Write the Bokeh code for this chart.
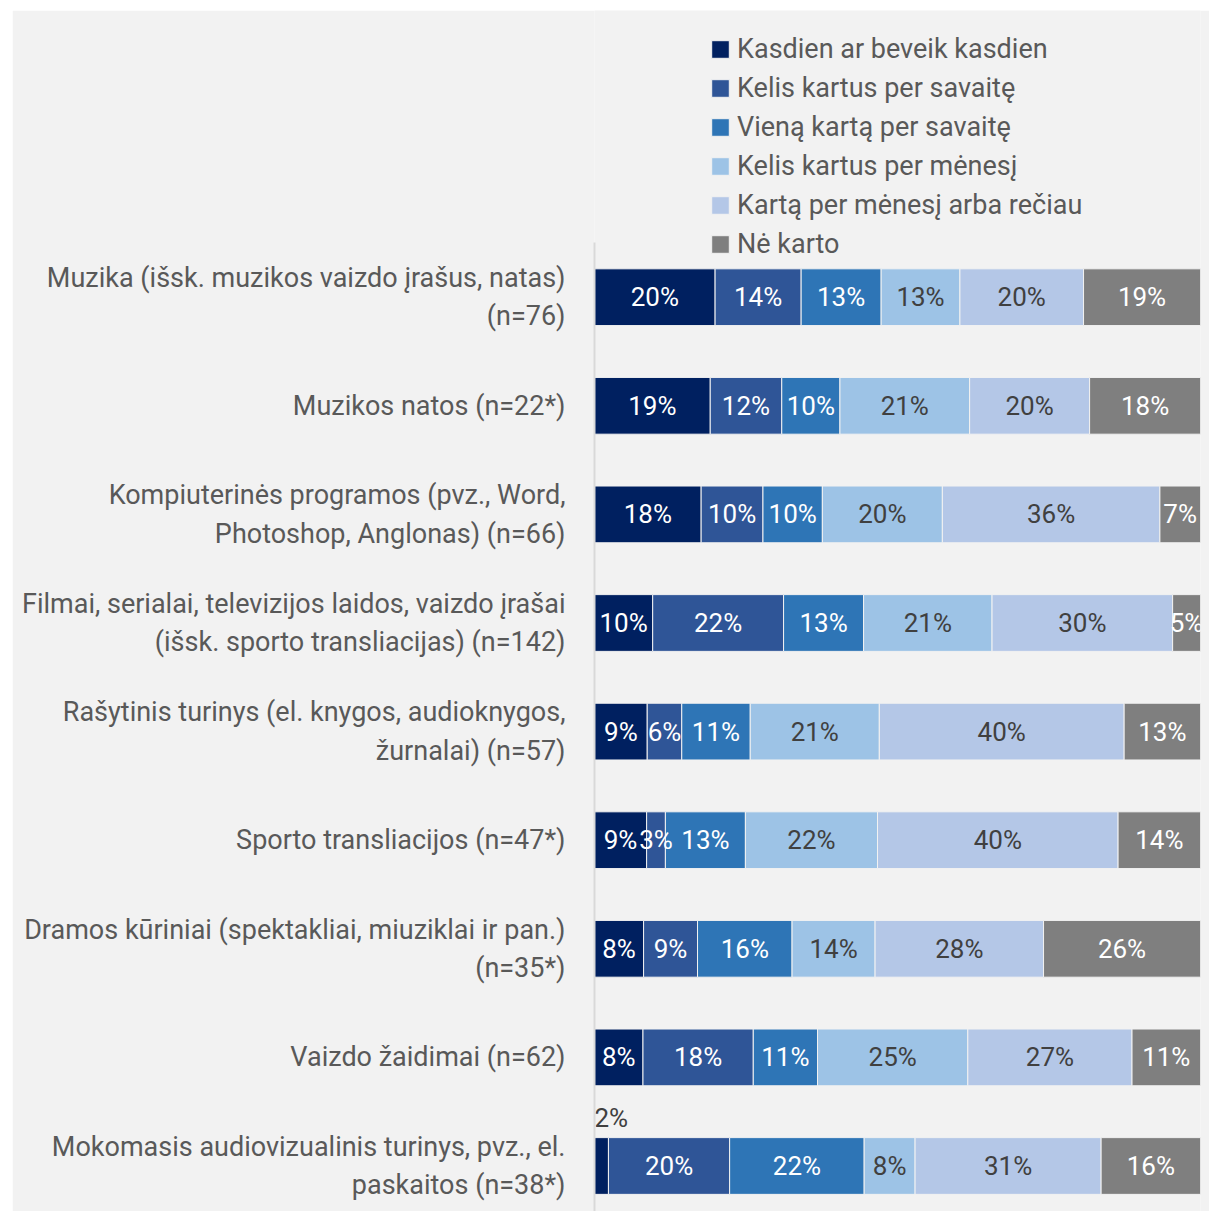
from bokeh.plotting import figure
from bokeh.models import ColumnDataSource, Range1d, FixedTicker
from bokeh.core.properties import value
from bokeh.embed import file_html
from bokeh.resources import INLINE

categories = [
    "Muzika (išsk. muzikos vaizdo įrašus, natas)\n(n=76)",
    "Muzikos natos (n=22*)",
    "Kompiuterinės programos (pvz., Word,\nPhotoshop, Anglonas) (n=66)",
    "Filmai, serialai, televizijos laidos, vaizdo įrašai\n(išsk. sporto transliacijas) (n=142)",
    "Rašytinis turinys (el. knygos, audioknygos,\nžurnalai) (n=57)",
    "Sporto transliacijos (n=47*)",
    "Dramos kūriniai (spektakliai, miuziklai ir pan.)\n(n=35*)",
    "Vaizdo žaidimai (n=62)",
    "Mokomasis audiovizualinis turinys, pvz., el.\npaskaitos (n=38*)",
]

series_names = [
    "Kasdien ar beveik kasdien",
    "Kelis kartus per savaitę",
    "Vieną kartą per savaitę",
    "Kelis kartus per mėnesį",
    "Kartą per mėnesį arba rečiau",
    "Nė karto",
]

kasdien = [19.9, 19.1, 17.6, 9.6, 8.7, 8.6, 8.1, 8.0, 2.3]
kelis_savaite = [14.2, 11.8, 10.2, 21.6, 5.7, 3.1, 8.9, 18.2, 20.0]
viena_savaite = [13.2, 9.6, 9.8, 13.2, 11.3, 13.2, 15.6, 10.6, 22.2]
kelis_menesi = [13.0, 21.4, 19.8, 21.2, 21.3, 21.8, 13.7, 24.8, 8.4]
karta_menesi = [20.4, 19.8, 35.9, 29.8, 40.4, 39.7, 27.8, 27.1, 30.7]
ne_karto = [19.3, 18.3, 6.7, 4.6, 12.6, 13.6, 25.9, 11.3, 16.4]

series_values = [kasdien, kelis_savaite, viena_savaite, kelis_menesi, karta_menesi, ne_karto]
colors = ["#002060", "#2F5597", "#2E75B6", "#9DC3E6", "#B4C7E7", "#7F7F7F"]
label_colors = ["#FFFFFF", "#FFFFFF", "#FFFFFF", "#404040", "#404040", "#FFFFFF"]

FONT = "Roboto"
BG = "#F2F2F2"

ypos = list(range(len(categories)))
keys = ["s%d" % i for i in range(len(series_names))]
data = {"y": ypos}
for k, vals in zip(keys, series_values):
    data[k] = vals
source = ColumnDataSource(data)

p = figure(
    width=1197, height=1201, margin=(10, 0, 0, 12),
    x_range=Range1d(0, 100), y_range=Range1d(8.419, -2.64),
    output_backend="svg", toolbar_location=None,
    x_axis_location=None,
    min_border_left=582, min_border_right=9, min_border_top=0, min_border_bottom=0,
)
p.background_fill_color = BG
p.border_fill_color = BG
p.outline_line_color = None
p.xgrid.visible = False
p.ygrid.visible = False

p.hbar_stack(keys, y="y", height=0.5226, color=colors, source=source,
             line_color=BG, line_width=1, legend_label=series_names)

# value labels
for i, vals in enumerate(series_values):
    xs, ys, ts = [], [], []
    xs_small, ys_small, ts_small = [], [], []
    for r, v in enumerate(vals):
        start = sum(series_values[j][r] for j in range(i))
        t = "%d%%" % int(v + 0.5)
        if v < 2.5:
            xs_small.append(start); ys_small.append(ypos[r] - 0.44); ts_small.append(t)
        else:
            xs.append(start + v / 2); ys.append(ypos[r]); ts.append(t)
    p.text(x=xs, y=ys, text=ts, text_font=value(FONT), text_font_size="26px",
           text_align="center", text_baseline="middle", text_color=label_colors[i])
    if xs_small:
        p.text(x=xs_small, y=ys_small, text=ts_small, text_font=value(FONT), text_font_size="26px",
               text_align="left", text_baseline="middle", text_color="#404040")

ax = p.yaxis[0]
ax.ticker = FixedTicker(ticks=ypos)
ax.bounds = (-0.5, 8.419)
ax.major_label_overrides = {y: c for y, c in zip(ypos, categories)}
ax.major_label_text_font = FONT
ax.major_label_text_font_size = "27px"
ax.major_label_text_color = "#595959"
ax.major_label_standoff = 29
ax.major_tick_out = 0
ax.major_tick_in = 0
ax.minor_tick_out = 0
ax.minor_tick_in = 0
ax.axis_line_color = "#D9D9D9"
ax.axis_line_width = 2

lg = p.legend[0]
lg.location = (115, 951)
lg.background_fill_alpha = 0
lg.border_line_color = None
lg.padding = 0
lg.margin = 0
lg.spacing = 7
lg.glyph_width = 22
lg.glyph_height = 22
lg.label_standoff = 6
lg.label_height = 31
lg.label_text_font = FONT
lg.label_text_font_size = "27px"
lg.label_text_color = "#595959"

open("out.html", "w").write(file_html(p, INLINE))
